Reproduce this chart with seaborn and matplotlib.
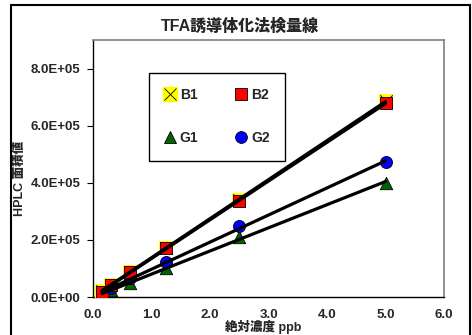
import matplotlib
matplotlib.use("Agg")
import matplotlib.pyplot as plt
import seaborn as sns
import pandas as pd
from matplotlib.lines import Line2D
from matplotlib.patches import Rectangle
from matplotlib.ticker import FuncFormatter

# concentration (ppb) and HPLC peak areas
conc = [0.156, 0.3125, 0.625, 1.25, 2.5, 5.0]
b1 = [21000, 43000, 89000, 173000, 340000, 685000]
b2 = [19000, 41000, 86000, 170000, 336000, 678000]
g1 = [7000, 24000, 49000, 102000, 210000, 400000]
g2 = [10000, 30000, 65000, 123000, 248000, 472000]

x_ticks = [0, 1, 2, 3, 4, 5, 6]
y_ticks = [0, 200000, 400000, 600000, 800000]

sns.set_style("white")
plt.rcParams["font.family"] = ["Liberation Sans", "Noto Sans CJK JP"]
plt.rcParams["font.weight"] = "bold"

fig = plt.figure(figsize=(4.72, 3.35), dpi=100)
ax = fig.add_axes([93 / 472, 1 - 297 / 335, 351 / 472, 257 / 335])

# outer chart border
fig.patches.append(Rectangle((11 / 472, -0.05), 459 / 472, 1.05 - 5 / 335,
                             transform=fig.transFigure, fill=False,
                             edgecolor="black", linewidth=1.5))

df = pd.DataFrame({"conc": conc, "B1": b1, "B2": b2, "G1": g1, "G2": g2})

# markers
sns.scatterplot(data=df, x="conc", y="G1", marker="^", s=80, color="#006400",
                edgecolor="black", linewidth=0.6, ax=ax, zorder=3)
sns.scatterplot(data=df, x="conc", y="G2", marker="o", s=75, color="#0000ff",
                edgecolor="black", linewidth=0.6, ax=ax, zorder=3)
sns.scatterplot(data=df, x="conc", y="B1", marker="s", s=100, color="#ffff00",
                edgecolor="#ffff00", linewidth=0, ax=ax, zorder=3)
sns.scatterplot(data=df, x="conc", y="B1", marker="x", s=80, color="black",
                linewidth=0.6, ax=ax, zorder=3)
sns.scatterplot(data=df, x="conc", y="B2", marker="s", s=70, color="#ff0000",
                edgecolor="black", linewidth=0.6, ax=ax, zorder=3)

# trend lines
for col in ["G1", "G2", "B1", "B2"]:
    sns.regplot(data=df, x="conc", y=col, ci=None, scatter=False, ax=ax,
                line_kws=dict(color="black", lw=2.3, zorder=4))

ax.set_xlim(0, 6)
ax.set_ylim(0, 900000)
ax.set_xticks(x_ticks)
ax.set_yticks(y_ticks)
ax.xaxis.set_major_formatter(FuncFormatter(lambda v, p: f"{v:.1f}"))
ax.yaxis.set_major_formatter(FuncFormatter(
    lambda v, p: "0.0E+00" if v == 0 else f"{v / 1e5:.1f}E+05"))
ax.tick_params(axis="x", direction="in", length=4, width=0.8, pad=9,
               labelsize=9.5, color="black")
ax.tick_params(axis="y", direction="out", length=4, width=0.8, pad=5,
               labelsize=9.5, color="black", left=True)
for lbl in ax.get_xticklabels() + ax.get_yticklabels():
    lbl.set_fontweight("bold")

for side in ["left", "bottom"]:
    ax.spines[side].set_color("black")
    ax.spines[side].set_linewidth(1.0)
for side in ["top", "right"]:
    ax.spines[side].set_color("#808080")
    ax.spines[side].set_linewidth(1.2)

ax.set_xlabel("絶対濃度 ppb", fontsize=9, fontweight="heavy")
ax.set_ylabel("HPLC 面積値", fontsize=9, fontweight="heavy")
ax.xaxis.label.set_va("center")
ax.yaxis.label.set_va("center")
ax.xaxis.set_label_coords(0.484, -0.117)
ax.yaxis.set_label_coords(-0.208, 0.463)
fig.text(0.508, 1 - 26 / 335, "TFA誘導体化法検量線", ha="center", va="center",
         fontsize=11.5, fontweight="heavy")

h_b1 = (Line2D([], [], marker="s", ls="none", ms=10, color="#ffff00", mec="#ffff00"),
        Line2D([], [], marker="x", ls="none", ms=8, color="black", mew=0.6))
h_b2 = Line2D([], [], marker="s", ls="none", ms=8, color="#ff0000", mec="black", mew=0.6)
h_g1 = Line2D([], [], marker="^", ls="none", ms=9, color="#006400", mec="black", mew=0.6)
h_g2 = Line2D([], [], marker="o", ls="none", ms=8.5, color="#0000ff", mec="black", mew=0.6)
leg = ax.legend([h_b1, h_g1, h_b2, h_g2], ["B1", "G1", "B2", "G2"], ncol=2,
                loc="upper left", bbox_to_anchor=(0.16, 0.872), frameon=True,
                fancybox=False, edgecolor="black", framealpha=1,
                prop=dict(weight="bold", size=10), handlelength=0.8,
                handletextpad=0.3, columnspacing=2.7, labelspacing=2.1,
                borderpad=1.1, borderaxespad=0)
leg.get_frame().set_linewidth(1.0)

plt.savefig("out.png", dpi=100)
